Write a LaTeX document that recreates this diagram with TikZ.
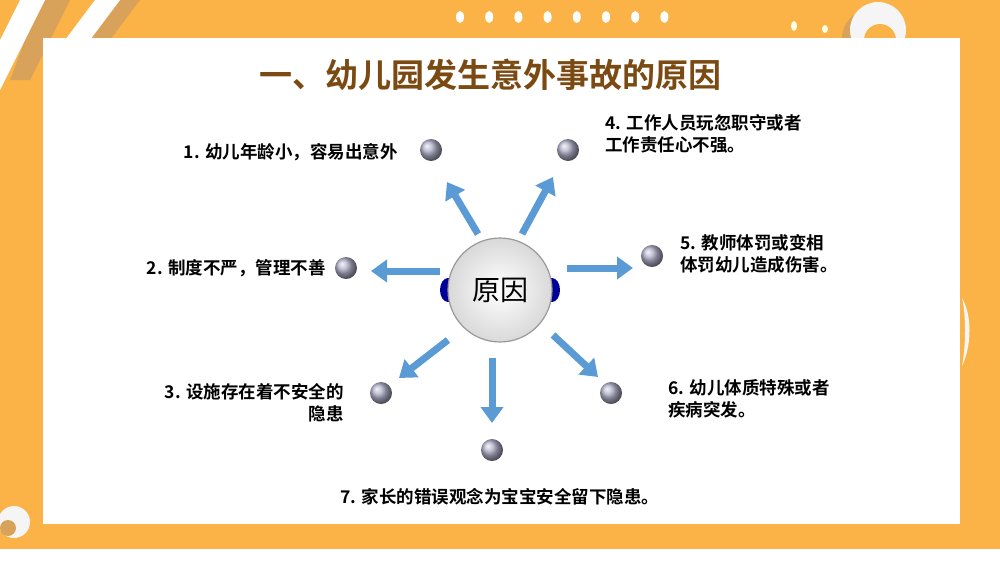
\documentclass[tikz,border=0pt]{standalone}
\usepackage{fontspec}
\newfontfamily\cjk{Noto Sans CJK SC}[BoldFont={Noto Sans CJK SC Bold}]
\definecolor{org}{HTML}{FBB347}
\definecolor{dorg}{HTML}{D9A25A}
\definecolor{arr}{HTML}{5B9BD5}
\definecolor{ttl}{HTML}{7B4A12}
\usetikzlibrary{arrows.meta}
\begin{document}
\begin{tikzpicture}[x=1pt,y=-1pt,
  ball/.style={circle,minimum size=22pt,inner sep=0,shade,ball color=gray!80!blue!50},
  lab/.style={font=\cjk\bfseries\fontsize{17.5}{22}\selectfont,align=left,inner sep=0},
  blue arrow/.style={line width=7pt,arr,-{Triangle[length=16pt,width=22pt]}}]
\useasboundingbox (0,0) rectangle (1000,563);
\fill[white] (0,0) rectangle (1000,563);
\fill[org] (0,0) rectangle (1000,549);
% decorations
\fill[dorg] (40,0) -- (70,0) -- (30,80) -- (10,80) -- cycle;
\fill[white] (20,0) -- (45,0) -- (0,90) -- (0,40) -- cycle;
\fill[dorg] (110,0) -- (140,0) -- (110,40) -- (80,40) -- cycle;
\fill[white] (95,0) -- (120,0) -- (90,40) -- (65,40) -- cycle;
\foreach \i in {0,...,7} \fill[white] (460+\i*29.2,17) ellipse (4 and 6);
\fill[white!90!yellow] (794,26) ellipse (3 and 5);
\fill[white!90!yellow] (825,29) ellipse (3 and 4);
\fill[dorg] (870,38) circle (28);
\fill[white!92!gray] (878,30) circle (28);
\fill[org] (880,40) circle (16);
\fill[white!92!gray] (14,522) circle (16);
\fill[dorg] (8,528) circle (8);
\fill[white!92!gray] (962,298) .. controls (972,315) and (972,345) .. (962,366) .. controls (966,345) and (966,315) .. cycle;
\fill[white] (43,38) rectangle (960,524);
% title
\node[font=\cjk\bfseries\fontsize{33}{36}\selectfont,text=ttl] (title) at (490,75) {一、幼儿园发生意外事故的原因};
% arrows
\coordinate (c) at (500,290);
\draw[blue arrow] (478,234) -- (447,182);
\draw[blue arrow] (522,234) -- (553,177);
\draw[blue arrow] (440,271) -- (371,271);
\draw[blue arrow] (567,268) -- (633,268);
\draw[blue arrow] (448,340) -- (399,378);
\draw[blue arrow] (553,335) -- (598,377);
\draw[blue arrow] (492,358) -- (492,423);
% center
\fill[blue!60!black] (448,290) ellipse (8 and 12);
\fill[blue!60!black] (552,290) ellipse (8 and 12);
\node[circle,minimum size=104pt,draw=gray!80,line width=1.2pt,inner color=white,outer color=gray!30,
  font=\cjk\fontsize{28}{30}\selectfont] (center) at (c) {原因};
% balls
\node[ball] (b1) at (431,150) {};
\node[ball] (b4) at (568,150) {};
\node[ball] (b2) at (346,268) {};
\node[ball] (b5) at (652,256) {};
\node[ball] (b3) at (381,393) {};
\node[ball] (b6) at (611,393) {};
\node[ball] (b7) at (492,450) {};
% labels
\node[lab,anchor=east] (t1) at (398,152) {1. 幼儿年龄小，容易出意外};
\node[lab,anchor=east] (t2) at (326,268) {2. 制度不严，管理不善};
\node[lab,anchor=east,align=right] (t3) at (344,403) {3. 设施存在着不安全的\\隐患};
\node[lab,anchor=west] (t4) at (605,134) {4. 工作人员玩忽职守或者\\工作责任心不强。};
\node[lab,anchor=west] (t5) at (680,254) {5. 教师体罚或变相\\体罚幼儿造成伤害。};
\node[lab,anchor=west] (t6) at (668,399) {6. 幼儿体质特殊或者\\疾病突发。};
\node[lab] (t7) at (500,497) {7. 家长的错误观念为宝宝安全留下隐患。};
\end{tikzpicture}
\end{document}
